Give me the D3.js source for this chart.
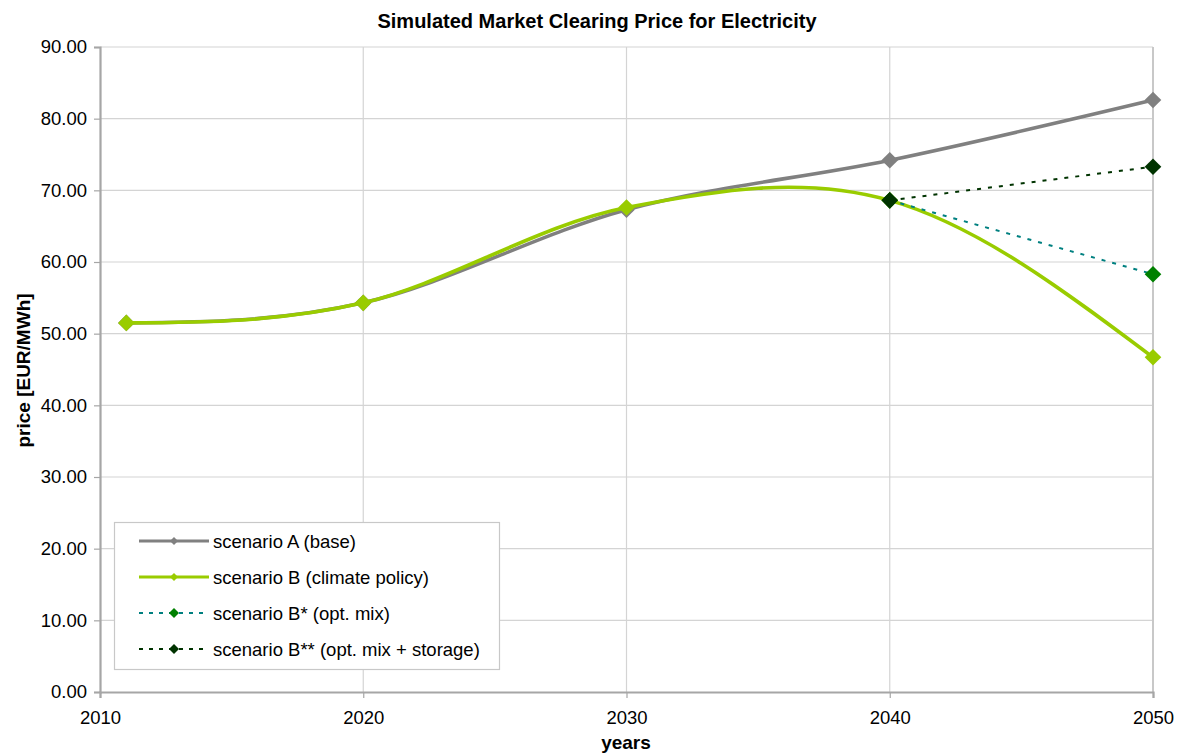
<!DOCTYPE html>
<html>
<head>
<meta charset="utf-8">
<script src="https://cdn.jsdelivr.net/npm/d3@7/dist/d3.min.js"></script>
<style>
  html, body { margin: 0; padding: 0; background: #fff; }
  svg { display: block; font-family: "Liberation Sans", Arial, sans-serif; }
</style>
</head>
<body>
<svg id="chart" width="1185" height="754"></svg>
<script>
// Simulated market clearing price (EUR/MWh) by scenario
const years = [2011, 2020, 2030, 2040, 2050];
const scenarioA = [51.5, 54.3, 67.3, 74.2, 82.6];
const scenarioB = [51.5, 54.3, 67.6, 68.6, 46.7];
const scenarioBStarYears = [2040, 2050];
const scenarioBStar = [68.6, 58.3];
const scenarioBStarStarYears = [2040, 2050];
const scenarioBStarStar = [68.6, 73.3];
const xTicks = [2010, 2020, 2030, 2040, 2050];
const yTicks = [0, 10, 20, 30, 40, 50, 60, 70, 80, 90];
const seriesNames = [
  "scenario A (base)",
  "scenario B (climate policy)",
  "scenario B* (opt. mix)",
  "scenario B** (opt. mix + storage)"
];

// Smoothed line: Catmull-Rom tangents inside, relaxed (zero-curvature) ends
function SmoothCurve(context) { this._context = context; }
SmoothCurve.prototype = {
  areaStart() { this._line = 0; },
  areaEnd() { this._line = NaN; },
  lineStart() { this._pts = []; },
  point(x, y) { this._pts.push([+x, +y]); },
  lineEnd() {
    const p = this._pts, n = p.length, c = this._context;
    if (!n) return;
    c.moveTo(p[0][0], p[0][1]);
    if (n === 1) return;
    if (n === 2) { c.lineTo(p[1][0], p[1][1]); return; }
    const t = p.map(() => [0, 0]);
    for (let i = 1; i < n - 1; i++) {
      t[i] = [(p[i + 1][0] - p[i - 1][0]) / 2, (p[i + 1][1] - p[i - 1][1]) / 2];
    }
    t[0] = [1.5 * (p[1][0] - p[0][0]) - 0.5 * t[1][0], 1.5 * (p[1][1] - p[0][1]) - 0.5 * t[1][1]];
    const m = n - 1;
    t[m] = [1.5 * (p[m][0] - p[m - 1][0]) - 0.5 * t[m - 1][0], 1.5 * (p[m][1] - p[m - 1][1]) - 0.5 * t[m - 1][1]];
    for (let i = 0; i < m; i++) {
      c.bezierCurveTo(
        p[i][0] + t[i][0] / 3, p[i][1] + t[i][1] / 3,
        p[i + 1][0] - t[i + 1][0] / 3, p[i + 1][1] - t[i + 1][1] / 3,
        p[i + 1][0], p[i + 1][1]);
    }
  }
};
const curveSmooth = (context) => new SmoothCurve(context);

const svg = d3.select("#chart");
const margin = { left: 100, right: 32, top: 47, bottom: 62 };
const W = 1185, H = 754;
const x = d3.scaleLinear().domain([2010, 2050]).range([margin.left, W - margin.right]);
const y = d3.scaleLinear().domain([0, 90]).range([H - margin.bottom, margin.top]);

// gridlines
svg.append("g").selectAll("line").data(yTicks.filter(d => d > 0)).join("line")
  .attr("x1", x(2010)).attr("x2", x(2050))
  .attr("y1", d => y(d)).attr("y2", d => y(d))
  .attr("stroke", "#d4d4d4").attr("stroke-width", 1.2);
svg.append("g").selectAll("line").data(xTicks.filter(d => d > 2010)).join("line")
  .attr("x1", d => x(d)).attr("x2", d => x(d))
  .attr("y1", y(0)).attr("y2", y(90))
  .attr("stroke", d => d === 2050 ? "#c8c8c8" : "#d4d4d4")
  .attr("stroke-width", d => d === 2050 ? 2 : 1.2);

// axes
const yAxis = svg.append("g").attr("transform", `translate(${x(2010)},0)`)
  .call(d3.axisLeft(y).tickValues(yTicks).tickFormat(d3.format(".2f")).tickSize(6).tickPadding(7));
const xAxis = svg.append("g").attr("transform", `translate(0,${y(0)})`)
  .call(d3.axisBottom(x).tickValues(xTicks).tickFormat(d3.format("d")).tickSize(6).tickPadding(13));
[yAxis, xAxis].forEach(g => {
  g.select(".domain").attr("stroke", "#a6a6a6").attr("stroke-width", 2.2);
  g.selectAll(".tick line").attr("stroke", "#a6a6a6").attr("stroke-width", 1.2);
  g.selectAll(".tick text").attr("fill", "#000").style("font-size", "18.5px")
    .style("font-family", "'Liberation Sans', Arial, sans-serif");
});

// titles
svg.append("text").attr("x", 597).attr("y", 27.5).attr("text-anchor", "middle")
  .style("font-size", "20px").style("font-weight", "bold")
  .text("Simulated Market Clearing Price for Electricity");
svg.append("text").attr("x", 626).attr("y", 749).attr("text-anchor", "middle")
  .style("font-size", "19px").style("font-weight", "bold").text("years");
svg.append("text").attr("transform", `translate(30,370.5) rotate(-90)`).attr("text-anchor", "middle")
  .style("font-size", "19px").style("font-weight", "bold").text("price [EUR/MWh]");

const diamond = (s) => `M0,${-s}L${s},0L0,${s}L${-s},0Z`;

const series = [
  { name: seriesNames[0], xs: years, ys: scenarioA, line: "#808080", marker: "#808080", width: 3.6, dash: null, smooth: true },
  { name: seriesNames[1], xs: years, ys: scenarioB, line: "#99cc00", marker: "#99cc00", width: 3.6, dash: null, smooth: true },
  { name: seriesNames[2], xs: scenarioBStarYears, ys: scenarioBStar, line: "#008080", marker: "#008000", width: 2, dash: "4,7", smooth: false },
  { name: seriesNames[3], xs: scenarioBStarStarYears, ys: scenarioBStarStar, line: "#003300", marker: "#003300", width: 2, dash: "4,7", smooth: false }
];

series.forEach(s => {
  const pts = s.xs.map((d, i) => [d, s.ys[i]]);
  const line = d3.line().x(d => x(d[0])).y(d => y(d[1]))
    .curve(s.smooth ? curveSmooth : d3.curveLinear);
  svg.append("path").datum(pts).attr("d", line)
    .attr("fill", "none").attr("stroke", s.line).attr("stroke-width", s.width)
    .attr("stroke-dasharray", s.dash).attr("stroke-linejoin", "round");
  svg.append("g").selectAll("path").data(pts).join("path")
    .attr("transform", d => `translate(${x(d[0])},${y(d[1])})`)
    .attr("d", diamond(8.3)).attr("fill", s.marker);
});

// legend
const lg = svg.append("g");
lg.append("rect").attr("x", 114.5).attr("y", 522.5).attr("width", 385).attr("height", 147)
  .attr("fill", "#fff").attr("stroke", "#c8c8c8").attr("stroke-width", 1.2);
series.forEach((s, i) => {
  const cy = 541 + i * 36;
  lg.append("line").attr("x1", 139).attr("x2", 209).attr("y1", cy).attr("y2", cy)
    .attr("stroke", s.line).attr("stroke-width", s.smooth ? 3.2 : 1.8)
    .attr("stroke-dasharray", s.dash ? "4,6" : null);
  lg.append("path").attr("transform", `translate(174,${cy})`)
    .attr("d", diamond(s.smooth ? 4 : 5)).attr("fill", s.marker);
  lg.append("text").attr("x", 213).attr("y", cy + 6.5).style("font-size", "18.5px").text(s.name);
});
</script>
</body>
</html>
